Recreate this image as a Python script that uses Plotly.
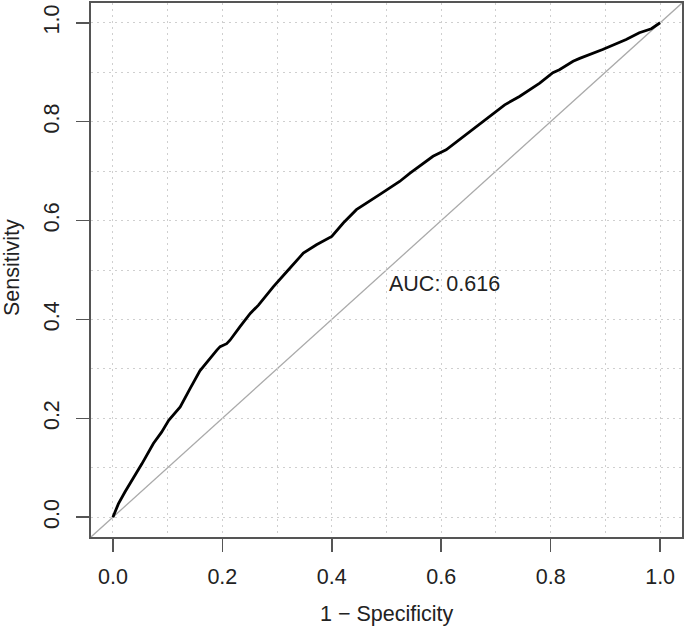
import plotly.graph_objects as go

# ROC curve (1 - specificity, sensitivity)
fpr = [0.0, 0.010, 0.022, 0.041, 0.053, 0.074, 0.089, 0.102, 0.123, 0.141,
       0.159, 0.190, 0.196, 0.208, 0.214, 0.232, 0.251, 0.266, 0.293, 0.318,
       0.348, 0.372, 0.400, 0.421, 0.445, 0.488, 0.524, 0.543, 0.585, 0.609,
       0.652, 0.682, 0.716, 0.743, 0.780, 0.804, 0.816, 0.841, 0.853, 0.895,
       0.938, 0.962, 0.984, 1.0]
tpr = [0.0, 0.027, 0.051, 0.085, 0.108, 0.149, 0.172, 0.196, 0.223, 0.260,
       0.296, 0.338, 0.345, 0.351, 0.358, 0.385, 0.412, 0.429, 0.466, 0.497,
       0.534, 0.551, 0.568, 0.595, 0.622, 0.653, 0.679, 0.696, 0.730, 0.743,
       0.780, 0.804, 0.834, 0.851, 0.878, 0.899, 0.905, 0.922, 0.928, 0.946,
       0.966, 0.980, 0.988, 1.0]

AUC_LABEL = "AUC: 0.616"
TICKS = [0.0, 0.2, 0.4, 0.6, 0.8, 1.0]
TICK_TEXT = ["0.0", "0.2", "0.4", "0.6", "0.8", "1.0"]
GRID = [0.0, 0.1, 0.2, 0.3, 0.4, 0.5, 0.6, 0.7, 0.8, 0.9, 1.0]
RANGE = [-0.04, 1.04]

FONT = "Liberation Sans, Arial, Helvetica, sans-serif"
TXT = "#222222"
AXC = "#555555"
GRIDC = "#cfcfcf"
FS = 21.5
DOT = "1.5px,4.5px"

fig = go.Figure()
fig.add_trace(go.Scatter(x=fpr, y=tpr, mode="lines",
                         line=dict(color="black", width=2.8),
                         hoverinfo="skip", showlegend=False))

# diagonal reference line across the whole plot region
fig.add_shape(type="line", xref="x", yref="y",
              x0=RANGE[0], y0=RANGE[0], x1=RANGE[1], y1=RANGE[1],
              line=dict(color="#aaaaaa", width=1.3), layer="below")

axis_common = dict(
    range=RANGE, showline=True, mirror=True, linecolor=AXC, linewidth=1.6,
    ticks="outside", ticklen=13, tickwidth=1.6, tickcolor=AXC,
    tickmode="array", tickvals=TICKS, ticktext=TICK_TEXT,
    tickfont=dict(family=FONT, size=FS, color=TXT),
    showgrid=True, gridcolor=GRIDC, gridwidth=1, griddash=DOT,
    minor=dict(tickmode="array", tickvals=GRID, showgrid=True,
               gridcolor=GRIDC, gridwidth=1, griddash=DOT, ticks=""),
    zeroline=False, fixedrange=True, automargin=False,
)

fig.update_xaxes(**axis_common, ticklabelstandoff=7)
fig.update_yaxes(**axis_common, tickangle=-90, ticklabelstandoff=9)

fig.add_annotation(x=0.5, y=0.5, xref="x", yref="y", text=AUC_LABEL,
                   showarrow=False, xanchor="left", yanchor="top",
                   font=dict(family=FONT, size=FS, color=TXT))
fig.add_annotation(x=0.5, y=0, xref="paper", yref="paper",
                   text="1 \u2212 Specificity", showarrow=False,
                   xanchor="center", yanchor="middle", yshift=-77,
                   font=dict(family=FONT, size=FS, color=TXT))
fig.add_annotation(x=0, y=0.5, xref="paper", yref="paper",
                   text="Sensitivity", showarrow=False, textangle=-90,
                   xanchor="center", yanchor="middle", xshift=-79, yshift=2,
                   font=dict(family=FONT, size=FS, color=TXT))

fig.update_layout(
    width=685, height=634,
    margin=dict(l=91, r=3, t=3, b=97, pad=0, autoexpand=False),
    paper_bgcolor="white", plot_bgcolor="white",
    font=dict(family=FONT, color=TXT),
    showlegend=False,
)

fig.write_html("out.html",
               config={"displayModeBar": False, "staticPlot": True},
               post_script="document.body.style.margin='0';"
                           "document.body.style.overflow='hidden';")
